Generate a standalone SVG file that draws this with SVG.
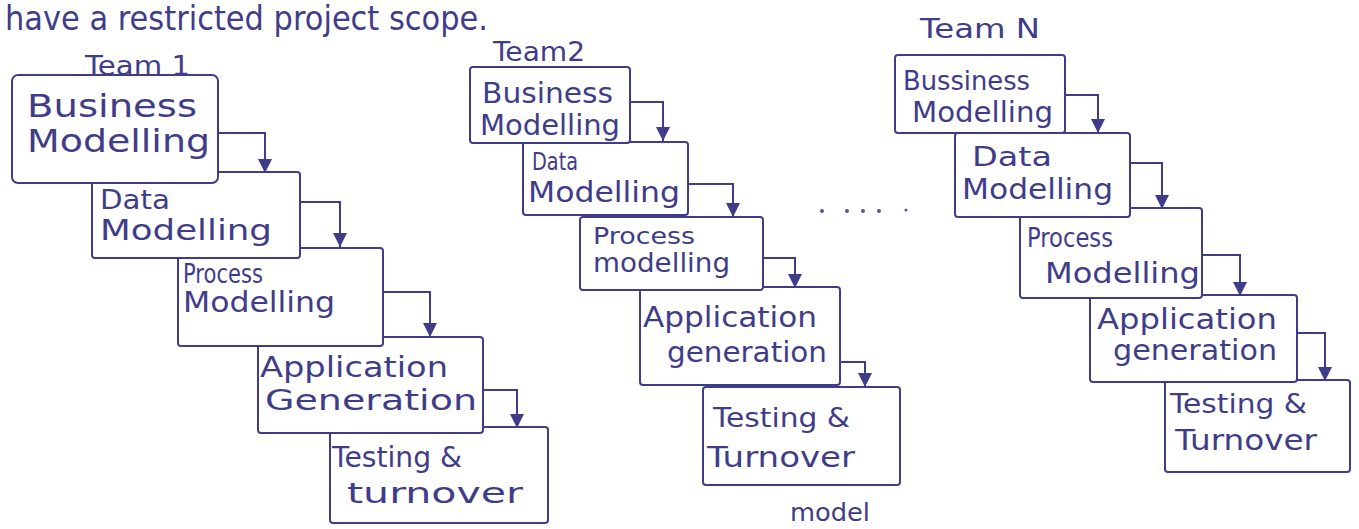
<svg xmlns="http://www.w3.org/2000/svg" width="1359" height="529" viewBox="0 0 1359 529">
  <style>
    .t { font-family: "DejaVu Sans", "Liberation Sans", sans-serif; fill: #3f3d8a; }
    .lbl { font-size: 26px; }
    .big { font-size: 32px; }
    .box { fill: #ffffff; stroke: #3f3d8a; stroke-width: 2; }
    .conn { fill: none; stroke: #3f3d8a; stroke-width: 2; marker-end: url(#head); }
    .dot { fill: #55529a; }
  </style>
  <defs>
    <marker id="head" viewBox="0 0 14 14" refX="14" refY="7" markerWidth="14" markerHeight="14" markerUnits="userSpaceOnUse" orient="auto">
      <path d="M0,0 L14,7 L0,14 z" fill="#3f3d8a"/>
    </marker>
  </defs>

  <rect width="1359" height="529" fill="#ffffff"/>

  <!-- heading line -->
  <text class="t" x="5" y="30" font-size="33" textLength="483" lengthAdjust="spacingAndGlyphs">have a restricted project scope.</text>

  <!-- team headings -->
  <text class="t lbl" x="85" y="75" textLength="105" lengthAdjust="spacingAndGlyphs">Team 1</text>
  <text class="t lbl" x="493" y="61" textLength="92" lengthAdjust="spacingAndGlyphs">Team2</text>
  <text class="t lbl" x="920" y="38" textLength="120" lengthAdjust="spacingAndGlyphs">Team N</text>

  <!-- Team 1 phases (drawn last-to-first so each box overlaps the one below it) -->
  <g id="t1-testing">
    <rect class="box" x="330" y="427" width="218" height="96" rx="3"/>
    <text class="t" font-size="28" x="332" y="467" textLength="130" lengthAdjust="spacingAndGlyphs">Testing &amp;</text>
    <text class="t" font-size="28" x="347" y="503" textLength="176" lengthAdjust="spacingAndGlyphs">turnover</text>
  </g>
  <g id="t1-application">
    <rect class="box" x="258" y="337" width="225" height="96" rx="3"/>
    <text class="t" font-size="28" x="260" y="377" textLength="188" lengthAdjust="spacingAndGlyphs">Application</text>
    <text class="t" font-size="28" x="265" y="410" textLength="212" lengthAdjust="spacingAndGlyphs">Generation</text>
  </g>
  <g id="t1-process">
    <rect class="box" x="178" y="248" width="205" height="98" rx="3"/>
    <text class="t" font-size="26" x="183" y="283" textLength="80" lengthAdjust="spacingAndGlyphs">Process</text>
    <text class="t" font-size="28" x="183" y="312" textLength="152" lengthAdjust="spacingAndGlyphs">Modelling</text>
  </g>
  <g id="t1-data">
    <rect class="box" x="92" y="172" width="208" height="86" rx="3"/>
    <text class="t" font-size="26" x="100" y="209" textLength="70" lengthAdjust="spacingAndGlyphs">Data</text>
    <text class="t" font-size="28" x="100" y="240" textLength="172" lengthAdjust="spacingAndGlyphs">Modelling</text>
  </g>
  <g id="t1-business">
    <rect class="box" x="12" y="75" width="206" height="108" rx="6"/>
    <text class="t big" x="27" y="117" textLength="170" lengthAdjust="spacingAndGlyphs">Business</text>
    <text class="t big" x="27" y="152" textLength="183" lengthAdjust="spacingAndGlyphs">Modelling</text>
  </g>

  <!-- Team 2 phases -->
  <g id="t2-testing">
    <rect class="box" x="703" y="387" width="197" height="98" rx="3"/>
    <text class="t" font-size="26" x="713" y="427" textLength="137" lengthAdjust="spacingAndGlyphs">Testing &amp;</text>
    <text class="t" font-size="28" x="707" y="467" textLength="148" lengthAdjust="spacingAndGlyphs">Turnover</text>
  </g>
  <g id="t2-application">
    <rect class="box" x="640" y="287" width="200" height="98" rx="3"/>
    <text class="t" font-size="28" x="643" y="327" textLength="174" lengthAdjust="spacingAndGlyphs">Application</text>
    <text class="t" font-size="28" x="667" y="362" textLength="160" lengthAdjust="spacingAndGlyphs">generation</text>
  </g>
  <g id="t2-process">
    <rect class="box" x="580" y="217" width="183" height="73" rx="3"/>
    <text class="t" font-size="23" x="593" y="244" textLength="102" lengthAdjust="spacingAndGlyphs">Process</text>
    <text class="t" font-size="26" x="593" y="272" textLength="137" lengthAdjust="spacingAndGlyphs">modelling</text>
  </g>
  <g id="t2-data">
    <rect class="box" x="523" y="142" width="165" height="73" rx="3"/>
    <text class="t" font-size="24" x="532" y="170" textLength="46" lengthAdjust="spacingAndGlyphs">Data</text>
    <text class="t" font-size="28" x="528" y="202" textLength="152" lengthAdjust="spacingAndGlyphs">Modelling</text>
  </g>
  <g id="t2-business">
    <rect class="box" x="470" y="67" width="160" height="76" rx="3"/>
    <text class="t" font-size="28" x="482" y="103" textLength="131" lengthAdjust="spacingAndGlyphs">Business</text>
    <text class="t" font-size="28" x="480" y="135" textLength="140" lengthAdjust="spacingAndGlyphs">Modelling</text>
  </g>

  <!-- Team N phases -->
  <g id="tn-testing">
    <rect class="box" x="1165" y="380" width="185" height="92" rx="3"/>
    <text class="t" font-size="26" x="1170" y="413" textLength="137" lengthAdjust="spacingAndGlyphs">Testing &amp;</text>
    <text class="t" font-size="28" x="1175" y="450" textLength="142" lengthAdjust="spacingAndGlyphs">Turnover</text>
  </g>
  <g id="tn-application">
    <rect class="box" x="1090" y="295" width="207" height="87" rx="3"/>
    <text class="t" font-size="28" x="1097" y="329" textLength="180" lengthAdjust="spacingAndGlyphs">Application</text>
    <text class="t" font-size="28" x="1113" y="360" textLength="164" lengthAdjust="spacingAndGlyphs">generation</text>
  </g>
  <g id="tn-process">
    <rect class="box" x="1020" y="208" width="182" height="90" rx="3"/>
    <text class="t" font-size="26" x="1027" y="247" textLength="86" lengthAdjust="spacingAndGlyphs">Process</text>
    <text class="t" font-size="28" x="1045" y="283" textLength="155" lengthAdjust="spacingAndGlyphs">Modelling</text>
  </g>
  <g id="tn-data">
    <rect class="box" x="955" y="133" width="175" height="84" rx="3"/>
    <text class="t" font-size="26" x="972" y="166" textLength="80" lengthAdjust="spacingAndGlyphs">Data</text>
    <text class="t" font-size="28" x="962" y="199" textLength="151" lengthAdjust="spacingAndGlyphs">Modelling</text>
  </g>
  <g id="tn-business">
    <rect class="box" x="895" y="55" width="170" height="78" rx="3"/>
    <text class="t" font-size="26" x="903" y="90" textLength="127" lengthAdjust="spacingAndGlyphs">Bussiness</text>
    <text class="t" font-size="28" x="912" y="122" textLength="141" lengthAdjust="spacingAndGlyphs">Modelling</text>
  </g>

  <!-- ellipsis between Team 2 and Team N -->
  <g id="ellipsis">
    <circle class="dot" cx="822" cy="211" r="2"/>
    <circle class="dot" cx="847" cy="211" r="2"/>
    <circle class="dot" cx="863" cy="211" r="2"/>
    <circle class="dot" cx="879" cy="211" r="2"/>
    <circle class="dot" cx="906" cy="210" r="1.5"/>
  </g>

  <!-- phase-to-phase flow arrows -->
  <g id="connectors">
    <path class="conn" d="M218,133 H265 V173"/>
    <path class="conn" d="M300,202 H340 V247"/>
    <path class="conn" d="M383,292 H430 V337"/>
    <path class="conn" d="M483,390 H517 V428"/>

    <path class="conn" d="M630,102 H663 V141"/>
    <path class="conn" d="M688,184 H733 V217"/>
    <path class="conn" d="M763,258 H795 V288"/>
    <path class="conn" d="M840,362 H865 V387"/>

    <path class="conn" d="M1065,95 H1098 V133"/>
    <path class="conn" d="M1130,163 H1162 V209"/>
    <path class="conn" d="M1202,255 H1240 V296"/>
    <path class="conn" d="M1297,333 H1325 V381"/>
  </g>

  <!-- next line of the page, at the lower edge -->
  <text class="t" x="790" y="521" font-size="24" textLength="80" lengthAdjust="spacingAndGlyphs">model</text>
</svg>
